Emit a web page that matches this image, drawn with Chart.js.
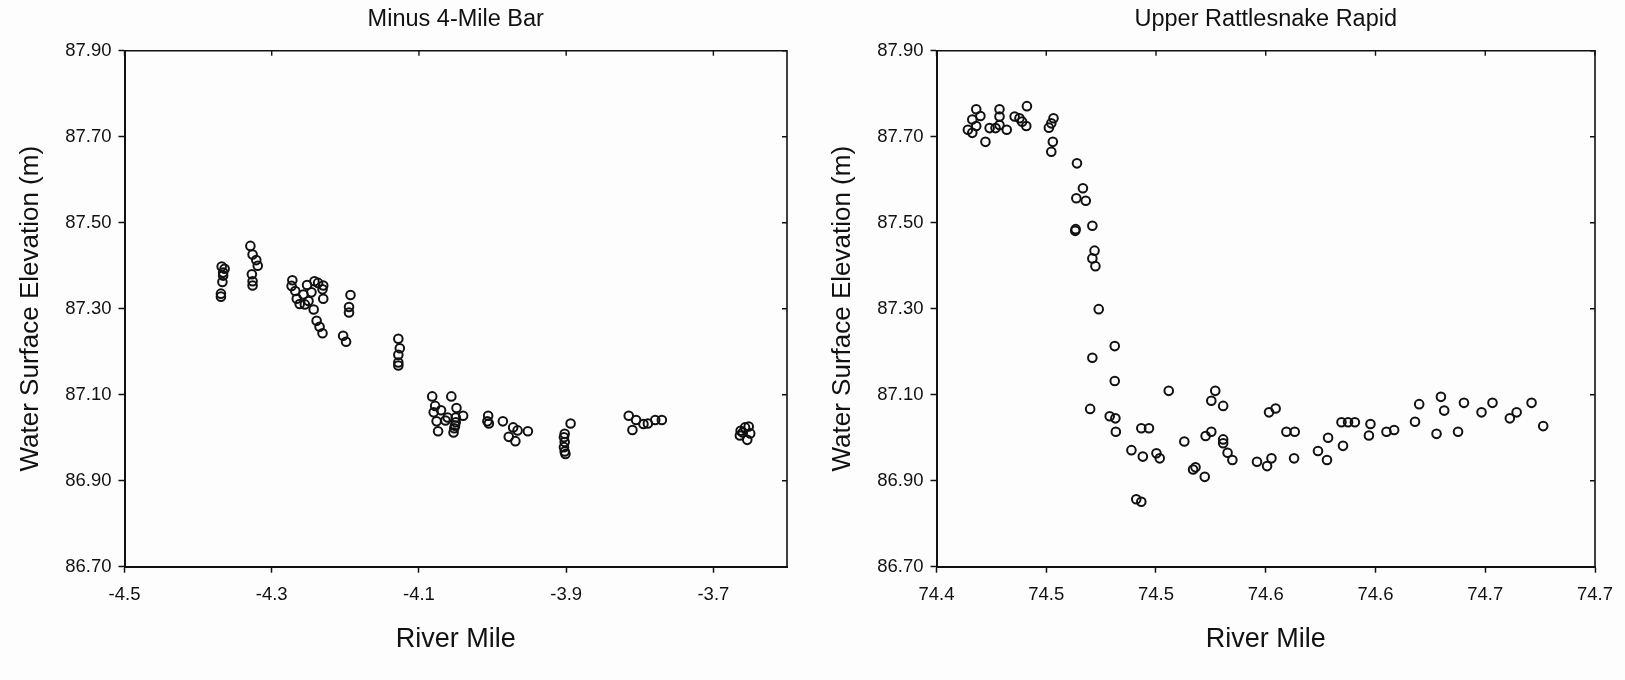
<!DOCTYPE html>
<html>
<head>
<meta charset="utf-8">
<title>Water Surface Elevation vs River Mile</title>
<script src="https://cdn.jsdelivr.net/npm/chart.js@4.4.1/dist/chart.umd.min.js"></script>
<style>
  html, body { margin: 0; padding: 0; background: #fdfdfd; }
  #wrap { position: relative; width: 1625px; height: 680px; overflow: hidden; }
  canvas { position: absolute; top: 0; }
  #left { left: 0; }
  #right { left: 812px; }
</style>
</head>
<body>
<div id="wrap">
  <canvas id="left" width="812" height="680"></canvas>
  <canvas id="right" width="813" height="680"></canvas>
</div>
<script>
// Shared tick values (elevation, m)
const elevTicks = [86.70, 86.90, 87.10, 87.30, 87.50, 87.70, 87.90];

// Minus 4-Mile Bar survey
const leftMileTicks = [-4.5, -4.3, -4.1, -3.9, -3.7];
const leftMile = [
  -4.368, -4.364, -4.366, -4.366, -4.367, -4.369, -4.369,
  -4.329, -4.326, -4.321, -4.319, -4.327, -4.326, -4.326,
  -4.272, -4.273, -4.268, -4.266, -4.262, -4.255, -4.257, -4.252, -4.246, -4.242,
  -4.237, -4.243, -4.239, -4.235, -4.231, -4.230, -4.231, -4.230, -4.250,
  -4.203, -4.199, -4.193, -4.195, -4.195,
  -4.128, -4.126, -4.128, -4.128, -4.128,
  -4.082, -4.078, -4.080, -4.070, -4.076, -4.074, -4.064, -4.061, -4.056, -4.049,
  -4.040, -4.050, -4.050, -4.052, -4.053, -4.051,
  -4.006, -4.007, -4.005,
  -3.986, -3.972, -3.966, -3.978, -3.969, -3.952,
  -3.894, -3.902, -3.903, -3.902, -3.903, -3.902, -3.901,
  -3.815, -3.805, -3.810, -3.795, -3.789, -3.779, -3.770,
  -3.663, -3.657, -3.652, -3.650, -3.654, -3.664, -3.660
];
const leftElev = [
  87.398, 87.393, 87.384, 87.377, 87.362, 87.335, 87.328,
  87.446, 87.426, 87.413, 87.400, 87.380, 87.364, 87.354,
  87.366, 87.353, 87.341, 87.323, 87.311, 87.310, 87.333, 87.355, 87.338, 87.364,
  87.360, 87.298, 87.272, 87.258, 87.243, 87.354, 87.345, 87.323, 87.318,
  87.237, 87.223, 87.332, 87.304, 87.291,
  87.230, 87.208, 87.193, 87.175, 87.168,
  87.096, 87.074, 87.059, 87.064, 87.038, 87.015, 87.040, 87.047, 87.096, 87.069,
  87.051, 87.047, 87.036, 87.022, 87.012, 87.028,
  87.051, 87.038, 87.033,
  87.038, 87.024, 87.017, 87.002, 86.992, 87.015,
  87.033, 87.009, 87.001, 86.990, 86.978, 86.968, 86.962,
  87.051, 87.041, 87.018, 87.032, 87.033, 87.041, 87.041,
  87.016, 87.024, 87.026, 87.010, 86.995, 87.005, 87.012
];

// Upper Rattlesnake Rapid survey
const rightMileTicks = [74.40, 74.45, 74.50, 74.55, 74.60, 74.65, 74.70];
const rightMileLabels = ['74.4', '74.5', '74.5', '74.6', '74.6', '74.7', '74.7'];
const rightMile = [
  74.4143, 74.4163, 74.4163, 74.4181, 74.4200, 74.4181, 74.4223, 74.4242, 74.4269,
  74.4287, 74.4287, 74.4287, 74.4320, 74.4356, 74.4378, 74.4390, 74.4412, 74.4409,
  74.4512, 74.4523, 74.4533, 74.4530, 74.4523,
  74.4640, 74.4667, 74.4637, 74.4680, 74.4710, 74.4632, 74.4634, 74.4720, 74.4710,
  74.4724, 74.4739, 74.4812, 74.4710, 74.4812, 74.5058, 74.4700, 74.4789, 74.4815,
  74.4817, 74.4888, 74.4940, 74.4933, 74.4968, 74.5002, 74.5017, 74.4910, 74.4933,
  74.5129, 74.5169, 74.5180, 74.5222, 74.5226, 74.5252, 74.5270, 74.5252, 74.5306,
  74.5306, 74.5306, 74.5326, 74.5348, 74.5460, 74.5506, 74.5526, 74.5515, 74.5545,
  74.5594, 74.5632, 74.5629, 74.5738, 74.5784, 74.5779, 74.5852, 74.5845, 74.5875,
  74.5906, 74.5977, 74.5970, 74.6050, 74.6085, 74.6180, 74.6199, 74.6278, 74.6298,
  74.6313, 74.6376, 74.6403, 74.6483, 74.6533, 74.6612, 74.6643, 74.6711, 74.6764
];
const rightElev = [
  87.716, 87.709, 87.740, 87.764, 87.748, 87.725, 87.688, 87.720, 87.720,
  87.764, 87.747, 87.727, 87.716, 87.747, 87.743, 87.735, 87.771, 87.725,
  87.721, 87.731, 87.743, 87.688, 87.665,
  87.638, 87.580, 87.557, 87.551, 87.493, 87.481, 87.485, 87.435, 87.417,
  87.399, 87.299, 87.213, 87.186, 87.132, 87.109, 87.067, 87.050, 87.045,
  87.014, 86.971, 86.956, 87.022, 87.022, 86.964, 86.952, 86.857, 86.851,
  86.991, 86.926, 86.931, 86.909, 87.004, 87.014, 87.109, 87.086, 87.074,
  86.996, 86.987, 86.965, 86.948, 86.944, 86.934, 86.952, 87.059, 87.068,
  87.014, 87.014, 86.952, 86.969, 87.000, 86.948, 86.981, 87.036, 87.036,
  87.036, 87.032, 87.005, 87.014, 87.018, 87.037, 87.078, 87.009, 87.095,
  87.063, 87.014, 87.081, 87.059, 87.081, 87.045, 87.059, 87.081, 87.027
];

const INK = '#111111';
Chart.defaults.font.family = '"Liberation Sans", Arial, Helvetica, sans-serif';
Chart.defaults.color = INK;

// Top and right frame lines with inward tick marks
const frameBox = {
  id: 'frameBox',
  afterDraw(chart) {
    const {ctx, chartArea: a, scales: {x, y}} = chart;
    ctx.save();
    ctx.strokeStyle = INK;
    ctx.lineWidth = 1.6;
    ctx.beginPath();
    ctx.moveTo(a.left, a.top);
    ctx.lineTo(a.right, a.top);
    ctx.lineTo(a.right, a.bottom);
    ctx.stroke();
    ctx.lineWidth = 1.4;
    ctx.beginPath();
    x.ticks.forEach(t => {
      const px = x.getPixelForValue(t.value);
      ctx.moveTo(px, a.top);
      ctx.lineTo(px, a.top + 5);
    });
    y.ticks.forEach(t => {
      const py = y.getPixelForValue(t.value);
      ctx.moveTo(a.right, py);
      ctx.lineTo(a.right - 5, py);
    });
    ctx.stroke();
    ctx.restore();
  }
};

function makePanel(canvasId, title, miles, elevs, mileMin, mileMax, mileTicks, mileLabel, padRight) {
  const points = miles.map((m, i) => ({x: m, y: elevs[i]}));
  return new Chart(document.getElementById(canvasId), {
    type: 'scatter',
    data: {
      datasets: [{
        data: points,
        pointStyle: 'circle',
        pointRadius: 4.3,
        pointHoverRadius: 4.3,
        pointBorderWidth: 2,
        borderColor: INK,
        backgroundColor: 'rgba(255,255,255,0)'
      }]
    },
    options: {
      responsive: false,
      animation: false,
      devicePixelRatio: 1,
      layout: {padding: {left: 0, right: padRight, top: 0, bottom: 0}},
      plugins: {
        legend: {display: false},
        tooltip: {enabled: false},
        title: {
          display: true,
          text: title,
          fullSize: false,
          color: INK,
          font: {size: 23.5, weight: 'normal'},
          padding: {top: 5, bottom: 17.5}
        }
      },
      scales: {
        x: {
          type: 'linear',
          min: mileMin,
          max: mileMax,
          afterBuildTicks: s => { s.ticks = mileTicks.map(v => ({value: v})); },
          afterFit: s => { s.height = 113.3; },
          ticks: {
            autoSkip: false,
            maxRotation: 0,
            padding: 11,
            color: INK,
            font: {size: 18.5},
            callback: mileLabel
          },
          grid: {drawOnChartArea: false, drawTicks: true, tickLength: 6, tickColor: INK, tickWidth: 1.5},
          border: {display: true, color: INK, width: 2},
          title: {display: true, text: 'River Mile', color: INK, font: {size: 27}, padding: {top: 0, bottom: 24}}
        },
        y: {
          type: 'linear',
          min: 86.7,
          max: 87.9,
          afterBuildTicks: s => { s.ticks = elevTicks.map(v => ({value: v})); },
          afterFit: s => { s.width = 124.5; },
          ticks: {
            autoSkip: false,
            padding: 7,
            color: INK,
            font: {size: 18.5},
            callback: v => Number(v).toFixed(2)
          },
          grid: {drawOnChartArea: false, drawTicks: true, tickLength: 6, tickColor: INK, tickWidth: 1.5},
          border: {display: true, color: INK, width: 2},
          title: {display: true, text: 'Water Surface Elevation (m)', color: INK, font: {size: 26}, padding: {top: 15, bottom: 0}}
        }
      }
    },
    plugins: [frameBox]
  });
}

makePanel('left', 'Minus 4-Mile Bar', leftMile, leftElev, -4.5, -3.6, leftMileTicks,
  v => Number(v).toFixed(1), 25);
makePanel('right', 'Upper Rattlesnake Rapid', rightMile, rightElev, 74.40, 74.70, rightMileTicks,
  (v, i) => rightMileLabels[i], 30);
</script>
</body>
</html>
